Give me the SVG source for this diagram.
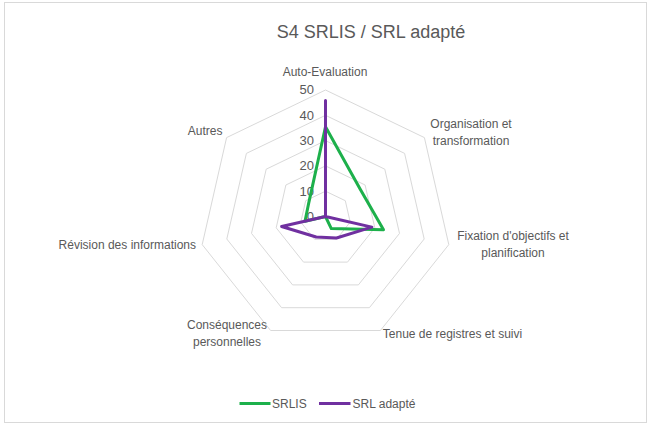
<svg xmlns="http://www.w3.org/2000/svg" width="648" height="425" viewBox="0 0 648 425">
<style>
.ring{fill:none;stroke:#d9d9d9;stroke-width:1}
.lbl{font-family:"Liberation Sans",Arial,sans-serif;font-size:12px;fill:#595959}
.tick{font-family:"Liberation Sans",Arial,sans-serif;font-size:13px;fill:#595959;text-anchor:end}
.title{font-family:"Liberation Sans",Arial,sans-serif;font-size:18px;fill:#595959;text-anchor:middle}
.s1{fill:none;stroke:#1db04b;stroke-width:3;stroke-linejoin:round}
.s2{fill:none;stroke:#7030a0;stroke-width:3;stroke-linejoin:round}
</style>
<rect x="0" y="0" width="648" height="425" fill="#ffffff"/>
<rect x="4.5" y="2.5" width="642" height="420" fill="#ffffff" stroke="#d9d9d9" stroke-width="1"/>
<text class="title" x="371" y="38">S4 SRLIS / SRL adapté</text>
<g id="grid">
<polygon class="ring" points="325.5,191.2 345.3,200.7 350.2,222.1 336.5,239.3 314.5,239.3 300.8,222.1 305.7,200.7"/>
<polygon class="ring" points="325.5,165.9 365.1,185.0 374.8,227.8 347.5,262.1 303.5,262.1 276.2,227.8 285.9,185.0"/>
<polygon class="ring" points="325.5,140.6 384.8,169.2 399.5,233.4 358.4,284.9 292.6,284.9 251.5,233.4 266.2,169.2"/>
<polygon class="ring" points="325.5,115.3 404.6,153.4 424.2,239.0 369.4,307.7 281.6,307.7 226.8,239.0 246.4,153.4"/>
<polygon class="ring" points="325.5,90.0 424.4,137.6 448.8,244.6 380.4,330.5 270.6,330.5 202.2,244.6 226.6,137.6"/>
</g>
<g id="ticks">
<text class="tick" x="314" y="221">0</text>
<text class="tick" x="314" y="195.5">10</text>
<text class="tick" x="314" y="170.2">20</text>
<text class="tick" x="314" y="144.9">30</text>
<text class="tick" x="314" y="119.6">40</text>
<text class="tick" x="314" y="94.3">50</text>
</g>
<g id="axis-labels">
<text class="lbl" x="325" y="76" text-anchor="middle">Auto-Evaluation</text>
<text class="lbl" x="471" y="127.5" text-anchor="middle">Organisation et</text>
<text class="lbl" x="471" y="145" text-anchor="middle">transformation</text>
<text class="lbl" x="513" y="240" text-anchor="middle">Fixation d'objectifs et</text>
<text class="lbl" x="513" y="257" text-anchor="middle">planification</text>
<text class="lbl" x="452.5" y="338" text-anchor="middle">Tenue de registres et suivi</text>
<text class="lbl" x="227" y="328.5" text-anchor="middle">Conséquences</text>
<text class="lbl" x="227" y="345.5" text-anchor="middle">personnelles</text>
<text class="lbl" x="196" y="248.5" text-anchor="end">Révision des informations</text>
<text class="lbl" x="222.5" y="135" text-anchor="end">Autres</text>
</g>
<g id="series">
<polygon id="srlis" class="s1" points="325.5,126.7 360.1,188.9 383.5,229.7 331.3,228.6 325.5,216.5 305.0,221.2 308.7,203.1"/>
<polygon id="srl-adapte" class="s2" points="325.5,100.6 325.5,216.5 371.9,227.1 336.5,238.0 316.2,237.0 281.6,226.5 325.5,216.5"/>
</g>
<g id="legend">
<line x1="239.5" y1="403.5" x2="270.5" y2="403.5" stroke="#1db04b" stroke-width="3"/>
<text class="lbl" x="272" y="407.5">SRLIS</text>
<line x1="319" y1="403.5" x2="350.5" y2="403.5" stroke="#7030a0" stroke-width="3"/>
<text class="lbl" x="352.5" y="407.5">SRL adapté</text>
</g>
</svg>
